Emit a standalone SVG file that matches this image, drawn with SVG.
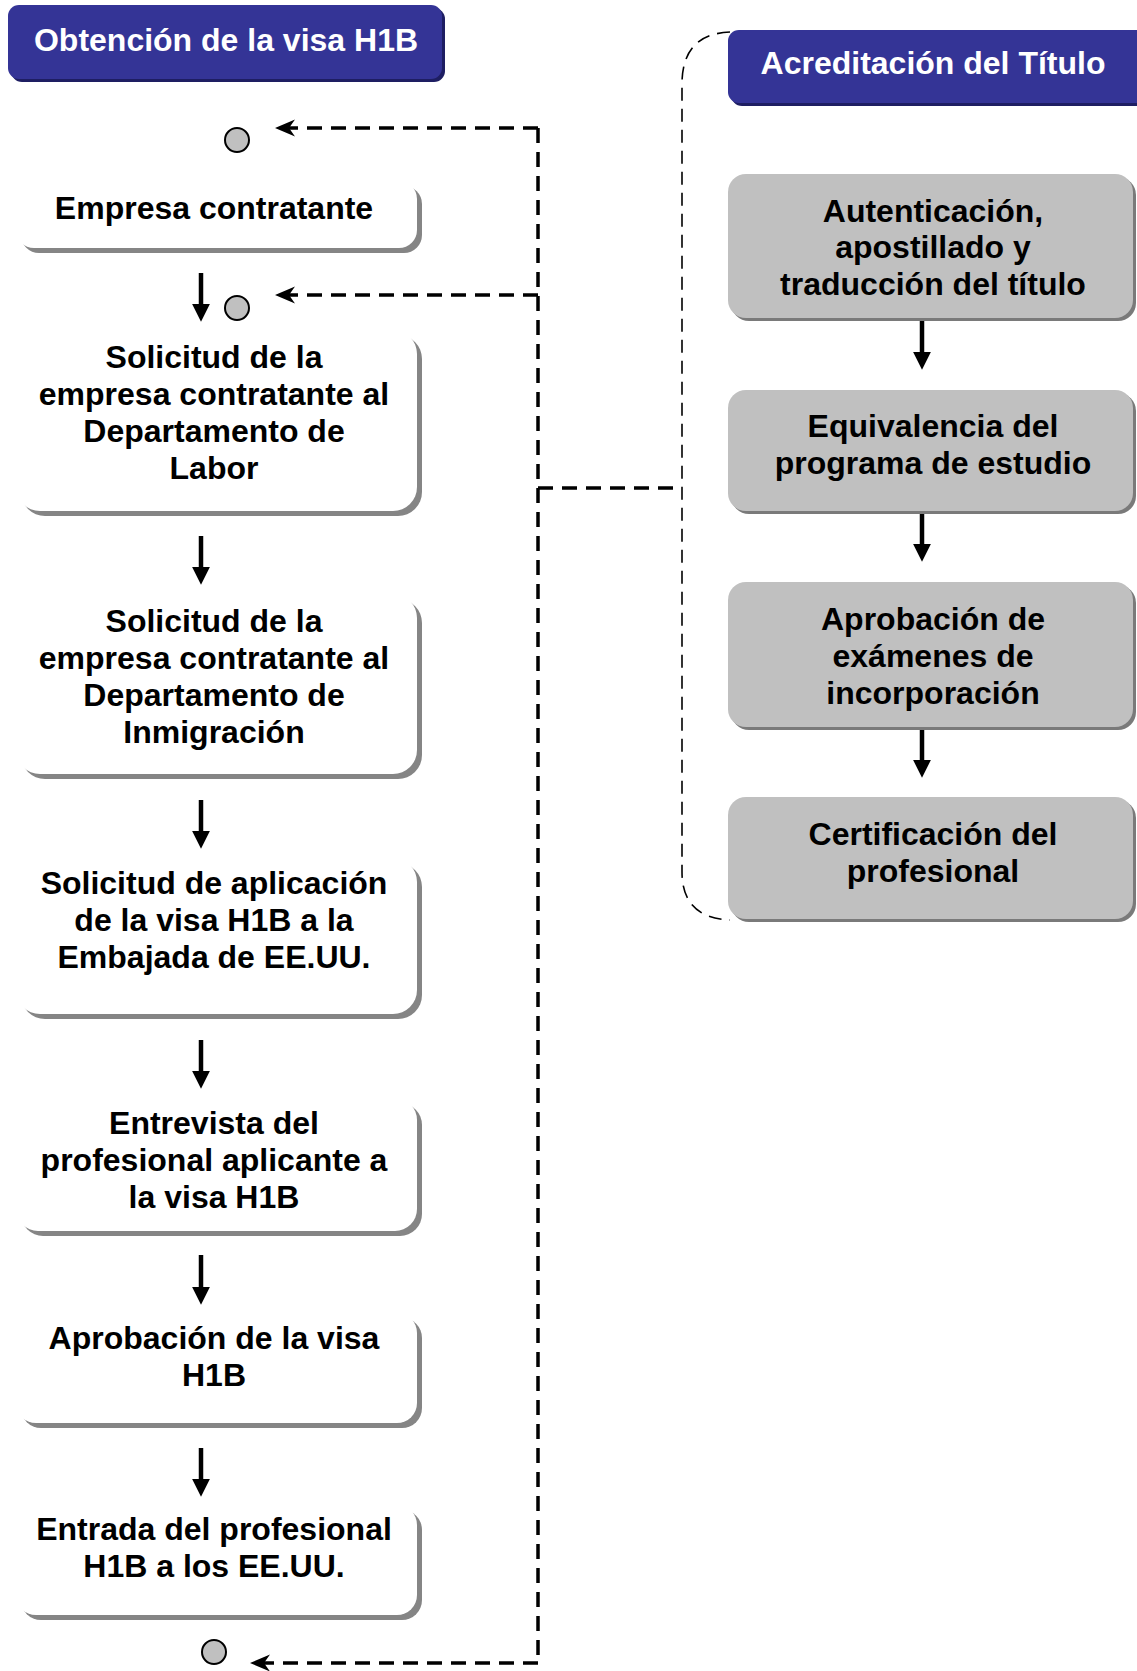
<svg xmlns="http://www.w3.org/2000/svg" width="1137" height="1671" viewBox="0 0 1137 1671">
<defs>
<style>
text{font-family:"Liberation Sans",Arial,sans-serif;font-weight:bold;font-size:32px;text-anchor:middle;fill:#000}
.ttl{fill:#fff}
.tbox{fill:#343496}
.tsh{fill:#1e1e62}
.wbox{fill:#fff}
.wsh{fill:#858585}
.gbox{fill:#c0c0c0}
.gsh{fill:#7a7a7a}
.dot{fill:#c0c0c0;stroke:#000;stroke-width:2}
.arr{stroke:#000;stroke-width:4.5;fill:none}
.dash{stroke:#000;stroke-width:3.5;stroke-dasharray:15 9;fill:none}
.thin{stroke:#000;stroke-width:1.6;stroke-dasharray:13 8;fill:none}
</style>
<marker id="ah" viewBox="0 0 17 17" refX="4" refY="8.5" markerWidth="18" markerHeight="18" markerUnits="userSpaceOnUse" orient="auto">
<path d="M0,0 L17,8.5 L0,17 z" fill="#000"/>
</marker>
<marker id="sa" viewBox="0 0 20 18" refX="13" refY="9" markerWidth="20" markerHeight="18" markerUnits="userSpaceOnUse" orient="auto">
<path d="M20,9 L0,0.5 L6,9 L0,17.5 z" fill="#000"/>
</marker>
</defs>

<g id="connectors">
<path class="dash" d="M538,128 V1663"/>
<path class="dash" d="M538,128 H282" marker-end="url(#sa)"/>
<path class="dash" d="M538,295 H282" marker-end="url(#sa)"/>
<path class="dash" d="M538,1663 H257" marker-end="url(#sa)"/>
<path class="dash" d="M538,488 H682"/>
<path class="thin" d="M730,32 Q682,34 682,84 V872 Q682,918 730,920"/>
<line class="arr" x1="201" y1="273" x2="201" y2="308" marker-end="url(#ah)"/>
<line class="arr" x1="201" y1="536" x2="201" y2="571" marker-end="url(#ah)"/>
<line class="arr" x1="201" y1="800" x2="201" y2="835" marker-end="url(#ah)"/>
<line class="arr" x1="201" y1="1040" x2="201" y2="1075" marker-end="url(#ah)"/>
<line class="arr" x1="201" y1="1255" x2="201" y2="1291" marker-end="url(#ah)"/>
<line class="arr" x1="201" y1="1448" x2="201" y2="1483" marker-end="url(#ah)"/>
<line class="arr" x1="922" y1="320" x2="922" y2="356" marker-end="url(#ah)"/>
<line class="arr" x1="922" y1="513" x2="922" y2="548" marker-end="url(#ah)"/>
<line class="arr" x1="922" y1="729" x2="922" y2="764" marker-end="url(#ah)"/>
</g>

<g id="dot1"><circle class="dot" cx="237" cy="140" r="12"/></g>
<g id="dot2"><circle class="dot" cx="237" cy="308" r="12"/></g>
<g id="dot3"><circle class="dot" cx="214" cy="1652" r="12"/></g>

<g id="title-left">
<rect class="tsh" x="11" y="8" width="434" height="74" rx="11"/>
<rect class="tbox" x="8" y="5" width="434" height="74" rx="11"/>
<text class="ttl" x="226" y="51">Obtención de la visa H1B</text>
</g>

<g id="title-right">
<rect class="tsh" x="731" y="33" width="420" height="73" rx="11"/>
<rect class="tbox" x="728" y="30" width="420" height="73" rx="11"/>
<text class="ttl" x="933" y="74">Acreditación del Título</text>
</g>

<g id="n1">
<rect class="wsh" x="21" y="186" width="401" height="67" rx="18"/>
<rect class="wbox" x="16" y="181" width="401" height="67" rx="18"/>
<text x="214" y="219">Empresa contratante</text>
</g>

<g id="n2">
<rect class="wsh" x="21" y="335" width="401" height="181" rx="24"/>
<rect class="wbox" x="16" y="330" width="401" height="181" rx="24"/>
<text x="214" y="368">Solicitud de la</text>
<text x="214" y="405">empresa contratante al</text>
<text x="214" y="442">Departamento de</text>
<text x="214" y="479">Labor</text>
</g>

<g id="n3">
<rect class="wsh" x="21" y="599" width="401" height="180" rx="24"/>
<rect class="wbox" x="16" y="594" width="401" height="180" rx="24"/>
<text x="214" y="632">Solicitud de la</text>
<text x="214" y="669">empresa contratante al</text>
<text x="214" y="706">Departamento de</text>
<text x="214" y="743">Inmigración</text>
</g>

<g id="n4">
<rect class="wsh" x="21" y="863" width="401" height="156" rx="24"/>
<rect class="wbox" x="16" y="858" width="401" height="156" rx="24"/>
<text x="214" y="894">Solicitud de aplicación</text>
<text x="214" y="931">de la visa H1B a la</text>
<text x="214" y="968">Embajada de EE.UU.</text>
</g>

<g id="n5">
<rect class="wsh" x="21" y="1103" width="401" height="133" rx="22"/>
<rect class="wbox" x="16" y="1098" width="401" height="133" rx="22"/>
<text x="214" y="1134">Entrevista del</text>
<text x="214" y="1171">profesional aplicante a</text>
<text x="214" y="1208">la visa H1B</text>
</g>

<g id="n6">
<rect class="wsh" x="21" y="1318" width="401" height="110" rx="20"/>
<rect class="wbox" x="16" y="1313" width="401" height="110" rx="20"/>
<text x="214" y="1349">Aprobación de la visa</text>
<text x="214" y="1386">H1B</text>
</g>

<g id="n7">
<rect class="wsh" x="21" y="1510" width="401" height="110" rx="20"/>
<rect class="wbox" x="16" y="1505" width="401" height="110" rx="20"/>
<text x="214" y="1540">Entrada del profesional</text>
<text x="214" y="1577">H1B a los EE.UU.</text>
</g>

<g id="r1">
<rect class="gsh" x="731" y="177" width="405" height="144" rx="18"/>
<rect class="gbox" x="728" y="174" width="405" height="144" rx="18"/>
<text x="933" y="222">Autenticación,</text>
<text x="933" y="258">apostillado y</text>
<text x="933" y="295">traducción del título</text>
</g>

<g id="r2">
<rect class="gsh" x="731" y="393" width="405" height="121" rx="18"/>
<rect class="gbox" x="728" y="390" width="405" height="121" rx="18"/>
<text x="933" y="437">Equivalencia del</text>
<text x="933" y="474">programa de estudio</text>
</g>

<g id="r3">
<rect class="gsh" x="731" y="585" width="405" height="145" rx="18"/>
<rect class="gbox" x="728" y="582" width="405" height="145" rx="18"/>
<text x="933" y="630">Aprobación de</text>
<text x="933" y="667">exámenes de</text>
<text x="933" y="704">incorporación</text>
</g>

<g id="r4">
<rect class="gsh" x="731" y="800" width="405" height="122" rx="18"/>
<rect class="gbox" x="728" y="797" width="405" height="122" rx="18"/>
<text x="933" y="845">Certificación del</text>
<text x="933" y="882">profesional</text>
</g>
</svg>
